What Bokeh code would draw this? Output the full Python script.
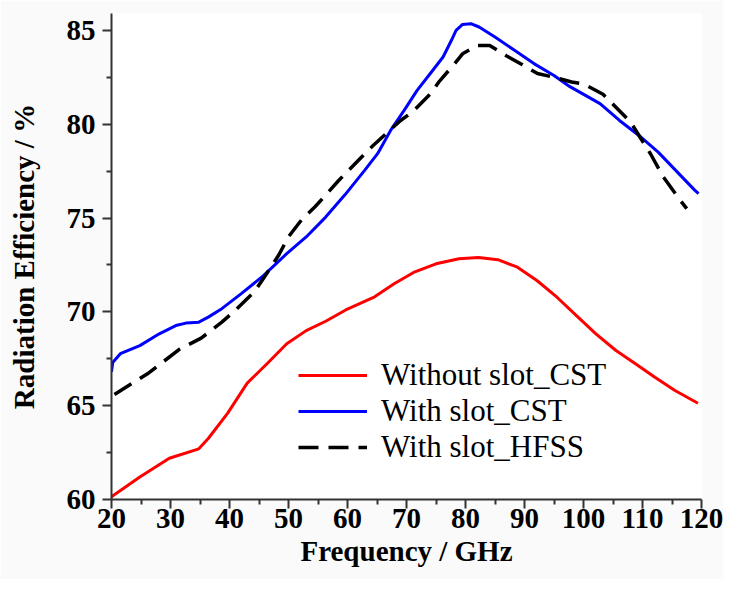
from bokeh.plotting import figure
from bokeh.embed import file_html
from bokeh.resources import INLINE
from bokeh.models import Range1d, FixedTicker

# Data
freq_red = [19.8, 24.8, 29.8, 34.8, 36.4, 39.7, 43.0, 46.4, 49.7, 53.0, 56.3, 59.7, 64.6, 67.9,
            71.2, 75.0, 78.9, 82.2, 85.5, 88.8, 92.1, 95.5, 98.8, 102.1, 105.5, 108.8, 112.1, 115.5, 119.4]
eff_red = [60.1, 61.2, 62.2, 62.7, 63.25, 64.6, 66.2, 67.25, 68.3, 69.0, 69.5, 70.1, 70.8, 71.5,
           72.1, 72.56, 72.83, 72.9, 72.78, 72.38, 71.67, 70.78, 69.8, 68.83, 67.94, 67.23, 66.52, 65.81, 65.13]

freq_blue = [20.0, 20.2, 21.5, 24.8, 28.1, 30.9, 32.6, 34.8, 36.4, 38.7, 42.0, 45.8, 49.7, 53.0, 56.3,
             59.6, 62.9, 65.1, 67.3, 69.6, 71.8, 74.0, 76.2, 77.6, 78.4, 79.5, 80.9, 82.3, 85.0, 88.3,
             91.6, 95.0, 97.7, 102.8, 106.1, 109.4, 112.7, 118.8, 119.5]
eff_blue = [66.8, 67.3, 67.77, 68.2, 68.83, 69.27, 69.4, 69.45, 69.72, 70.17, 70.97, 71.94, 73.1, 73.99, 75.05,
            76.25, 77.54, 78.43, 79.67, 80.74, 81.8, 82.69, 83.58, 84.46, 85.0, 85.32, 85.36, 85.18, 84.65, 83.94,
            83.23, 82.6, 82.0, 81.1, 80.2, 79.4, 78.5, 76.5, 76.3]

freq_hfss = [20.5, 26.1, 31.5, 35.2, 38.7, 40.7, 44.3, 46.0, 48.3, 50.0, 52.2, 54.5, 56.8, 58.5, 62.4,
             64.3, 69.0, 71.0, 74.0, 75.6, 78.1, 79.5, 82.0, 84.1, 86.9, 89.5, 92.2, 95.0, 98.0, 100.0,
             103.3, 105.2, 108.0, 109.4, 111.4, 113.5, 116.5, 117.5]
eff_hfss = [65.6, 66.7, 68.0, 68.6, 69.45, 70.0, 71.1, 71.9, 73.0, 74.0, 74.9, 75.6, 76.4, 77.0, 78.25,
            78.85, 80.2, 80.65, 81.6, 82.3, 83.2, 83.75, 84.2, 84.2, 83.65, 83.2, 82.7, 82.5, 82.25, 82.15,
            81.6, 81.0, 80.1, 79.4, 78.4, 77.2, 75.9, 75.5]

x_ticks = [20, 30, 40, 50, 60, 70, 80, 90, 100, 110, 120]
y_ticks = [60, 65, 70, 75, 80, 85]

FONT = "Liberation Serif"

p = figure(width=723, height=579, output_backend="svg", toolbar_location=None,
           x_range=Range1d(20, 120), y_range=Range1d(60, 85.9),
           min_border_left=111, min_border_right=22, min_border_top=13, min_border_bottom=80)

p.line(freq_red, eff_red, color="#ff0000", line_width=3, legend_label="Without slot_CST")
p.line(freq_blue, eff_blue, color="#0000ff", line_width=3, legend_label="With slot_CST")
p.line(freq_hfss, eff_hfss, color="black", line_width=3.5, line_dash="20 10", legend_label="With slot_HFSS")

p.xgrid.visible = False
p.ygrid.visible = False
p.outline_line_color = None
p.background_fill_color = "white"
p.border_fill_color = "#fafafa"

for ax in (p.xaxis[0], p.yaxis[0]):
    ax.axis_line_width = 2
    ax.axis_line_color = "#333333"
    ax.major_tick_line_width = 2
    ax.major_tick_line_color = "#333333"
    ax.minor_tick_line_width = 2
    ax.minor_tick_line_color = "#333333"
    ax.major_tick_out = 9
    ax.major_tick_in = 0
    ax.minor_tick_out = 5
    ax.minor_tick_in = 0
    ax.major_label_text_font = FONT
    ax.major_label_text_font_style = "bold"
    ax.major_label_text_font_size = "29px"
    ax.major_label_text_color = "black"
    ax.axis_label_text_font = FONT
    ax.axis_label_text_font_style = "bold"
    ax.axis_label_text_font_size = "29px"
    ax.axis_label_text_color = "black"

p.xaxis.ticker = FixedTicker(ticks=x_ticks, minor_ticks=[x + 5 for x in x_ticks[:-1]])
p.yaxis.ticker = FixedTicker(ticks=y_ticks, minor_ticks=[y + 2.5 for y in y_ticks])
p.xaxis.axis_label = "Frequency / GHz"
p.yaxis.axis_label = "Radiation Efficiency / %"
p.xaxis.major_label_standoff = 0
p.yaxis.major_label_standoff = 7
p.xaxis.axis_label_standoff = 4
p.yaxis.axis_label_standoff = 24

lg = p.legend[0]
lg.location = (187, 34)
lg.border_line_color = None
lg.background_fill_color = "white"
lg.background_fill_alpha = 1.0
lg.padding = 0
lg.margin = 0
lg.spacing = -1
lg.glyph_width = 69
lg.glyph_height = 30
lg.label_height = 30
lg.label_standoff = 14
lg.label_text_font = FONT
lg.label_text_font_size = "31px"
lg.label_text_color = "black"

open("out.html", "w").write(file_html(p, INLINE))
